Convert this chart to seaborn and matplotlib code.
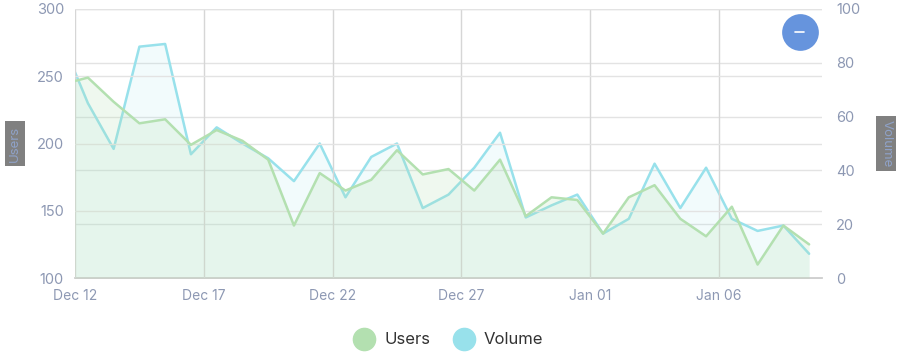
import pandas as pd
import seaborn as sns
import matplotlib
matplotlib.use('Agg')
import matplotlib.pyplot as plt
import matplotlib.dates as mdates
from matplotlib.lines import Line2D

# daily values, stamped at noon (first point sits left of the visible range)
dates = pd.date_range("2023-12-11 12:00", periods=30, freq="D")
users = [244, 249, 231, 215, 218, 199, 210, 202, 188, 139,
         178, 165, 173, 195, 177, 181, 165, 188, 146, 160,
         158, 133, 160, 169, 144, 131, 153, 110, 139, 125]
volume = [88, 65, 48, 86, 87, 46, 56, 50, 44.5, 36,
          50, 30, 45, 50, 26, 31, 41, 54, 22.5, 27,
          31, 16.5, 22, 42.5, 26, 41, 22, 17.5, 19.5, 9]
tick_days = pd.date_range("2023-12-12", periods=6, freq="5D")

df = pd.DataFrame({"date": dates, "Users": users, "Volume": volume})

green = "#b3e0b0"
cyan = "#98e1eb"
tick_col = "#8d98b3"
grid_col = "#e3e3e3"

sns.set_theme(style="white")
plt.rcParams['font.family'] = ['Inter', 'DejaVu Sans']

fig = plt.figure(figsize=(9, 3.54), dpi=100)
ax = fig.add_axes([75/900, 1-278/354, 747/900, 269/354])
ax2 = ax.twinx()

# volume first (right axis), users on top
ax2.fill_between(df["date"], df["Volume"], 0, color=cyan, alpha=0.12, lw=0)
sns.lineplot(data=df, x="date", y="Volume", ax=ax2, color=cyan, lw=1.8)
ax.fill_between(df["date"], df["Users"], 100, color=green, alpha=0.2, lw=0)
sns.lineplot(data=df, x="date", y="Users", ax=ax, color=green, lw=1.8)
ax.set_zorder(ax2.get_zorder() + 1)
ax.patch.set_visible(False)

ax.set_xlim(pd.Timestamp("2023-12-12"), pd.Timestamp("2024-01-10"))
ax.set_ylim(100, 300)
ax2.set_ylim(0, 100)
ax.set_yticks([100, 150, 200, 250, 300])
ax2.set_yticks([0, 20, 40, 60, 80, 100])
ax.set_xticks(tick_days)
ax.xaxis.set_major_formatter(mdates.DateFormatter("%b %d"))

ax.grid(True, axis="both", color=grid_col, lw=1)
ax2.grid(True, axis="y", color=grid_col, lw=1)
ax.xaxis.grid(True, color="#d6d6d6", lw=1)

for a in (ax, ax2):
    for s in a.spines.values():
        s.set_visible(False)
    a.tick_params(length=0, labelsize=10.5, labelcolor=tick_col)
ax2.spines["bottom"].set_visible(True)
ax2.spines["bottom"].set_color("#c9c9c9")
ax.tick_params(axis="y", pad=8)
ax.tick_params(axis="x", pad=8, labelsize=10)
ax2.tick_params(axis="y", pad=10)
ax.set_xlabel("")

lbl = dict(fontsize=9.5, color="#8fa2c8",
           bbox=dict(facecolor="#808080", edgecolor="none", pad=3))
ax.set_ylabel("Users", **lbl)
ax.yaxis.set_label_coords(-0.072, 0.5)
ax2.set_ylabel("Volume", rotation=270, **lbl)
ax2.yaxis.set_label_coords(1.094, 0.5)

# round minus button in the corner
ax.scatter([0.9705], [0.9145], s=700, color="#6694dd", transform=ax.transAxes,
           clip_on=False, zorder=10, linewidths=0)
ax.plot([0.9645, 0.9765], [0.9145, 0.9145], color="white", lw=1.2,
        transform=ax.transAxes, clip_on=False, zorder=11)

handles = [Line2D([], [], ls="", marker="o", ms=16, color=green, label="Users"),
           Line2D([], [], ls="", marker="o", ms=16, color=cyan, label="Volume")]
fig.legend(handles=handles, loc="center", bbox_to_anchor=(0.495, 14/354), ncol=2,
           frameon=False, fontsize=12, handletextpad=0.2, columnspacing=1.0,
           labelcolor="#333333")

plt.savefig("out.png", dpi=100)
plt.close(fig)
